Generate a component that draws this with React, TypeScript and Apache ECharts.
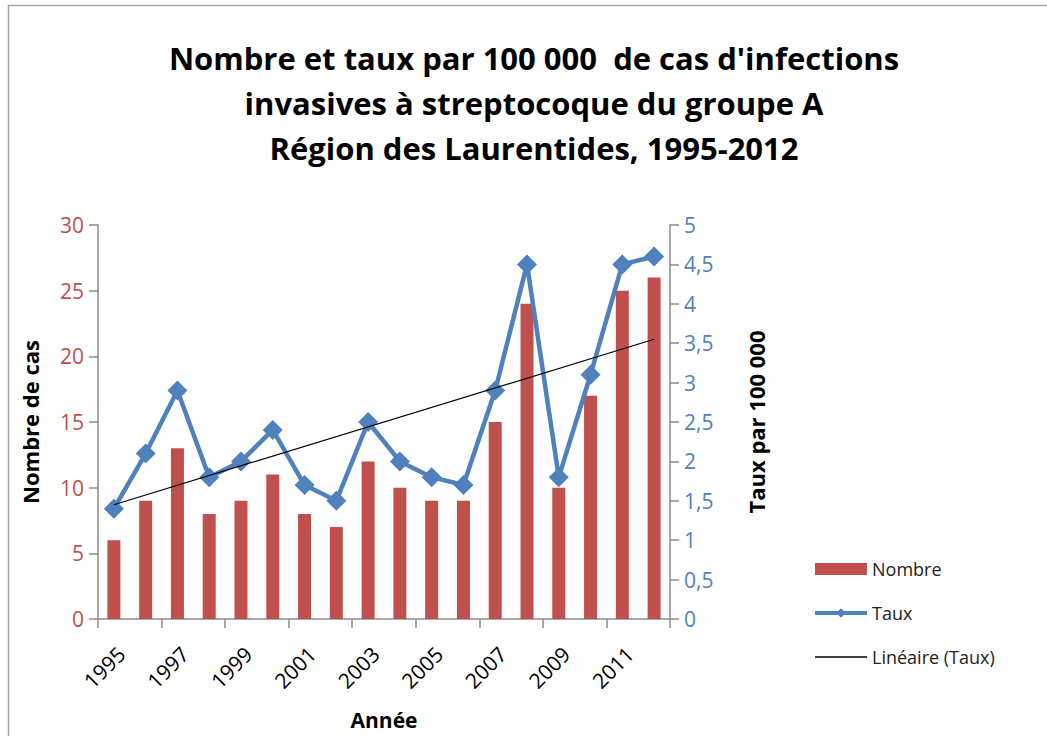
import React, { useEffect, useRef } from "react";
import * as echarts from "echarts";

const years = ["1995","1996","1997","1998","1999","2000","2001","2002","2003","2004","2005","2006","2007","2008","2009","2010","2011","2012"];
const nombre = [6, 9, 13, 8, 9, 11, 8, 7, 12, 10, 9, 9, 15, 24, 10, 17, 25, 26];
const taux = [1.4, 2.1, 2.9, 1.8, 2.0, 2.4, 1.7, 1.5, 2.5, 2.0, 1.8, 1.7, 2.9, 4.5, 1.8, 3.1, 4.5, 4.6];
// trend line endpoints (first and last year)
const trendIdx = [0, 17];
const trendVal = [1.45, 3.55];

const titleText = "Nombre et taux par 100 000  de cas d'infections\ninvasives à streptocoque du groupe A\nRégion des Laurentides, 1995-2012";

const RED = "#C0504D";
const BLUE = "#4F81BD";
const FONT = "'Open Sans', 'Noto Sans', sans-serif";

export default function App() {
  const ref = useRef<HTMLDivElement>(null);
  useEffect(() => {
    document.body.style.margin = "0";
    const chart = echarts.init(ref.current!, null, { renderer: "svg" });
    chart.setOption({
      animation: false,
      backgroundColor: "#fff",
      textStyle: { fontFamily: FONT },
      title: {
        text: titleText,
        left: 529,
        top: 30,
        textAlign: "center",
        textStyle: { fontSize: 31, fontWeight: "bold", color: "#000", lineHeight: 45, fontFamily: FONT },
      },
      graphic: [
        { type: "rect", shape: { x: 8.5, y: 5.5, width: 1100, height: 800 }, style: { fill: "none", stroke: "#a6a6a6", lineWidth: 1.5 }, silent: true },
      ],
      legend: {
        orient: "vertical",
        left: 808,
        top: 555,
        itemWidth: 52,
        itemHeight: 12,
        itemGap: 26,
        textStyle: { fontSize: 18, color: "#222", fontFamily: FONT },
        lineStyle: { width: 4 },
        data: [
          { name: "Nombre", icon: "rect" },
          { name: "Taux" },
          { name: "Linéaire (Taux)", icon: "path://M0,0 L52,0 L52,1.3 L0,1.3 Z" },
        ],
      },
      grid: { left: 98, right: 377, top: 225, bottom: 117 },
      xAxis: {
        type: "category",
        data: years,
        boundaryGap: true,
        name: "Année",
        nameLocation: "middle",
        nameGap: 90,
        nameTextStyle: { fontSize: 21, fontWeight: "bold", color: "#000" },
        axisLine: { lineStyle: { color: "#8c8c8c", width: 1.5 } },
        axisTick: { show: true, length: 9, lineStyle: { color: "#8c8c8c", width: 1.5 } },
        axisLabel: { interval: 1, rotate: 45, fontSize: 21, color: "#000", margin: 24, verticalAlign: "top" },
      },
      yAxis: [
        {
          type: "value",
          min: 0,
          max: 30,
          interval: 5,
          name: "Nombre de cas",
          nameLocation: "middle",
          nameGap: 57,
          nameRotate: 90,
          nameTextStyle: { fontSize: 22, fontWeight: "bold", color: "#000" },
          splitLine: { show: false },
          axisLine: { show: true, lineStyle: { color: "#8c8c8c", width: 1.5 } },
          axisTick: { show: true, length: 9, lineStyle: { color: "#8c8c8c", width: 1.5 } },
          axisLabel: { fontSize: 21, color: RED, margin: 14 },
        },
        {
          type: "value",
          min: 0,
          max: 5,
          interval: 0.5,
          position: "right",
          name: "Taux par 100 000",
          nameLocation: "middle",
          nameGap: 75,
          nameRotate: 90,
          nameTextStyle: { fontSize: 22, fontWeight: "bold", color: "#000" },
          splitLine: { show: false },
          axisLine: { show: true, lineStyle: { color: "#8c8c8c", width: 1.5 } },
          axisTick: { show: true, length: 9, lineStyle: { color: "#8c8c8c", width: 1.5 } },
          axisLabel: {
            fontSize: 21,
            color: BLUE,
            margin: 14,
            formatter: (v: number) => String(v).replace(".", ","),
          },
        },
      ],
      series: [
        {
          name: "Nombre",
          type: "bar",
          yAxisIndex: 0,
          data: nombre,
          barWidth: 13,
          itemStyle: { color: RED },
        },
        {
          name: "Taux",
          type: "line",
          yAxisIndex: 1,
          data: taux,
          symbol: "diamond",
          symbolSize: 20,
          lineStyle: { color: BLUE, width: 4.5 },
          itemStyle: { color: BLUE },
          z: 3,
        },
        {
          name: "Linéaire (Taux)",
          type: "line",
          yAxisIndex: 1,
          data: trendIdx.map((i, k) => [i, trendVal[k]]),
          symbol: "none",
          lineStyle: { color: "#000", width: 1.2 },
          itemStyle: { color: "#000" },
          z: 4,
        },
      ],
    });
    return () => chart.dispose();
  }, []);
  return <div ref={ref} style={{ width: 1047, height: 736 }} />;
}
